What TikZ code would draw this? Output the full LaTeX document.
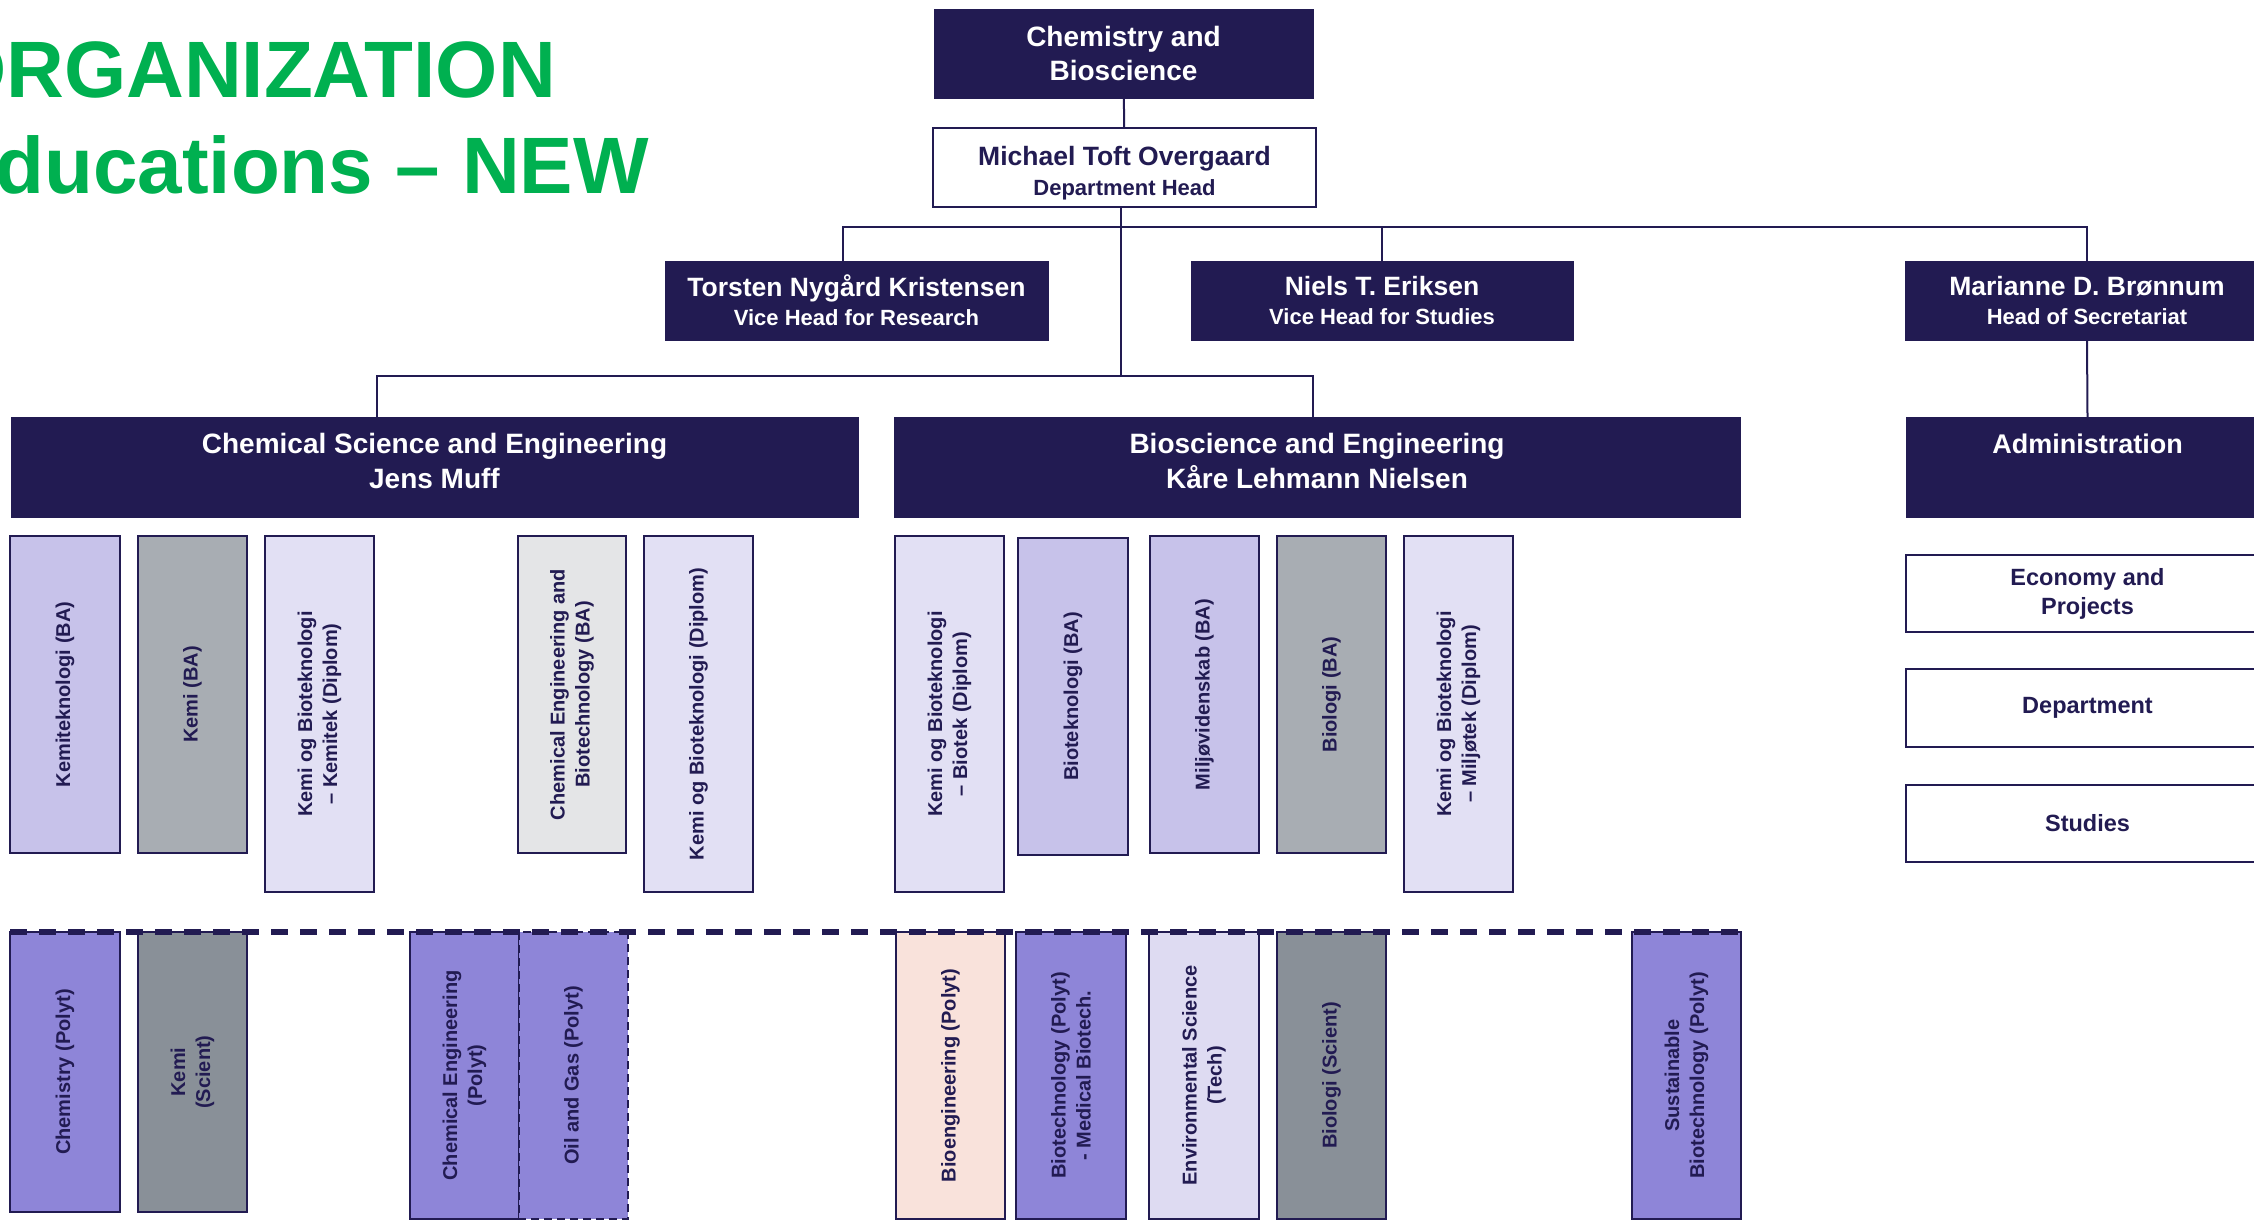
\documentclass[tikz,border=0pt]{standalone}
\usepackage{fontspec}
\setmainfont{Liberation Sans}
\definecolor{navy}{RGB}{34,27,82}
\definecolor{titlegreen}{RGB}{0,176,80}
\definecolor{lav}{RGB}{199,194,234}
\definecolor{pale}{RGB}{226,224,244}
\definecolor{grayA}{RGB}{168,173,179}
\definecolor{lgray}{RGB}{228,229,231}
\definecolor{purp}{RGB}{142,133,216}
\definecolor{dgray}{RGB}{137,144,152}
\definecolor{pinkish}{RGB}{249,226,219}
\definecolor{envi}{RGB}{222,219,242}
\newcommand\mkbox[7]{\node[#6, minimum width={#4-#2}, minimum height={#5-#3}] (#1) at ({(#2+#4)/2},{(#3+#5)/2}) {#7};}
\newcommand\mkprog[7]{\node[prog,#6, minimum width={#5-#3}, minimum height={#4-#2}] (#1) at ({(#2+#4)/2},{(#3+#5)/2}) {#7};}
\newcommand\lowpad{\rule[-12pt]{0pt}{12pt}}
\begin{document}
\begin{tikzpicture}[x=1pt,y=-1pt,
  conn/.style={draw=navy, line width=2pt},
  hdr/.style={fill=navy, draw=navy, line width=1pt, text=white, align=center, inner sep=0pt, outer sep=0pt, font=\bfseries\fontsize{28}{34.5}\selectfont},
  person/.style={fill=navy, draw=navy, line width=1pt, text=white, align=center, inner sep=0pt, outer sep=0pt, font=\bfseries\fontsize{26.5}{29}\selectfont},
  whitebox/.style={fill=white, draw=navy, line width=2.5pt, text=navy, align=center, inner sep=0pt, outer sep=0pt, font=\bfseries\fontsize{23.5}{29}\selectfont},
  prog/.style={draw=navy, line width=2.5pt, text=navy, rotate=90, align=center, inner sep=0pt, outer sep=0pt, font=\bfseries\fontsize{20}{25}\selectfont},
  titletext/.style={text=titlegreen, inner sep=0pt, font=\bfseries\fontsize{80}{90}\selectfont}]
\useasboundingbox (0,0) rectangle (2254,1221);
\clip (0,0) rectangle (2254,1221);
% title
\node[titletext, anchor=base east] (t1) at (556,97) {ORGANIZATION};
\node[titletext, anchor=base east] (t2) at (649,193) {Educations – NEW};
% top boxes
\mkbox{top}{934}{9}{1313}{98}{hdr}{Chemistry and\\Bioscience}
\mkbox{mich}{933}{128}{1316}{207}{whitebox, font=\bfseries\fontsize{26.5}{30}\selectfont}{\rule{0pt}{30pt}Michael Toft Overgaard\\{\fontsize{22}{30}\selectfont Department Head}}
\mkbox{tors}{665}{261}{1048}{340}{person}{Torsten Nygård Kristensen\\{\fontsize{22}{29}\selectfont Vice Head for Research}}
\mkbox{niels}{1191}{261}{1573}{340}{person}{Niels T. Eriksen\\{\fontsize{22}{29}\selectfont Vice Head for Studies}}
\mkbox{mar}{1905}{261}{2269}{340}{person}{Marianne D. Brønnum\\{\fontsize{22}{29}\selectfont Head of Secretariat}}
% departments
\mkbox{csci}{11}{417}{858}{517}{hdr}{Chemical Science and Engineering\\Jens Muff\lowpad}
\mkbox{bio}{894}{417}{1740}{517}{hdr}{Bioscience and Engineering\\Kåre Lehmann Nielsen\lowpad}
\mkbox{adm}{1906}{417}{2269}{517}{hdr, font=\bfseries\fontsize{27}{34.5}\selectfont}{Administration\\\phantom{J}\lowpad}
\mkbox{eco}{1906}{555}{2269}{632}{whitebox}{Economy and\\Projects}
\mkbox{dep}{1906}{669}{2269}{747}{whitebox}{Department}
\mkbox{stu}{1906}{785}{2269}{862}{whitebox}{Studies}
% connectors
\coordinate (tv) at (843,227);
\coordinate (cv) at (377,376);
\coordinate (mv) at (1121,376);
\coordinate (bv) at (1313,376);
\draw[conn] (top) -- (mich);
\draw[conn] (mich.south -| mv) -- (mv);
\draw[conn] (tors.north -| tv) -- (tv) -- (mar.north |- tv) -- (mar.north);
\draw[conn] (niels.north) -- (niels.north |- tv);
\draw[conn] (csci.north -| cv) -- (cv) -- (bv) -- (bio.north -| bv);
\draw[conn] (mar.south) -- (adm.north);
% upper programmes
\mkprog{p1}{10}{536}{120}{853}{fill=lav}{Kemiteknologi (BA)}
\mkprog{p2}{138}{536}{247}{853}{fill=grayA}{Kemi (BA)}
\mkprog{p3}{265}{536}{374}{892}{fill=pale}{Kemi og Bioteknologi\\– Kemitek (Diplom)}
\mkprog{p4}{518}{536}{626}{853}{fill=lgray}{Chemical Engineering and\\Biotechnology (BA)}
\mkprog{p5}{644}{536}{753}{892}{fill=pale}{Kemi og Bioteknologi (Diplom)}
\mkprog{p6}{895}{536}{1004}{892}{fill=pale}{Kemi og Bioteknologi\\– Biotek (Diplom)}
\mkprog{p7}{1018}{538}{1128}{855}{fill=lav}{Bioteknologi (BA)}
\mkprog{p8}{1150}{536}{1259}{853}{fill=lav}{Miljøvidenskab (BA)}
\mkprog{p9}{1277}{536}{1386}{853}{fill=grayA}{Biologi (BA)}
\mkprog{p10}{1404}{536}{1513}{892}{fill=pale}{Kemi og Bioteknologi\\– Miljøtek (Diplom)}
% lower programmes
\mkprog{q1}{10}{932}{120}{1212}{fill=purp}{Chemistry (Polyt)}
\mkprog{q2}{138}{932}{247}{1212}{fill=dgray}{Kemi\\(Scient)}
\mkprog{q3}{410}{932}{519}{1219}{fill=purp}{Chemical Engineering\\(Polyt)}
\mkprog{q4}{519}{932}{628}{1219}{fill=purp, dashed, dash pattern=on 8pt off 5pt, line width=1.5pt}{Oil and Gas (Polyt)}
\mkprog{q5}{896}{932}{1005}{1219}{fill=pinkish}{Bioengineering (Polyt)}
\mkprog{q6}{1016}{932}{1126}{1219}{fill=purp}{Biotechnology (Polyt)\\- Medical Biotech.}
\mkprog{q7}{1149}{932}{1259}{1219}{fill=envi, line width=1.5pt}{Environmental Science\\(Tech)}
\mkprog{q8}{1277}{932}{1386}{1219}{fill=dgray}{Biologi (Scient)}
\mkprog{q9}{1632}{932}{1741}{1219}{fill=purp}{Sustainable\\Biotechnology (Polyt)}
\draw[navy, line width=2pt] (q3.south west) -- (q3.north west);
% dashed divider
\coordinate (dl) at (10,932);
\coordinate (dr) at (1741,932);
\draw[navy, line width=6pt, dash pattern=on 17pt off 12pt] (dl) -- (dr);
\end{tikzpicture}
\end{document}
